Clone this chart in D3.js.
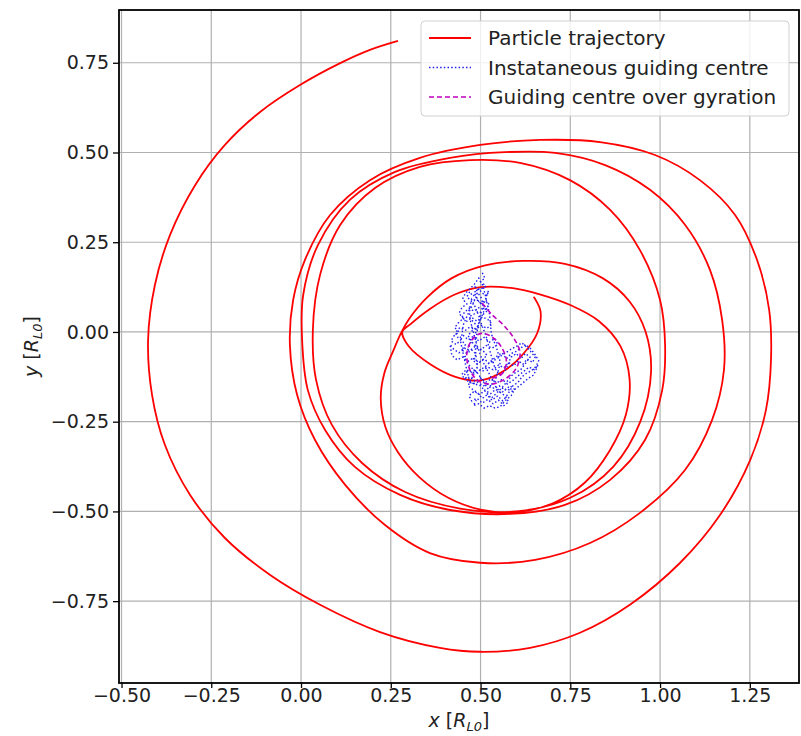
<!DOCTYPE html>
<html>
<head>
<meta charset="utf-8">
<script src="https://cdn.jsdelivr.net/npm/d3@7"></script>
<style>
  body { margin: 0; background: #fff; }
  svg { display: block; font-family: "DejaVu Sans", sans-serif; }
</style>
</head>
<body>
<svg id="chart"></svg>
<script>
// particle trajectory [x, y] in R_L0
const trajectory = [
  [0.270, 0.811], [0.192, 0.786], [0.109, 0.749], [-0.003, 0.688], [-0.114, 0.613],
  [-0.212, 0.521], [-0.295, 0.409], [-0.365, 0.270], [-0.407, 0.131], [-0.426, -0.022],
  [-0.415, -0.175], [-0.379, -0.315], [-0.309, -0.454], [-0.212, -0.574], [-0.086, -0.677],
  [0.053, -0.760], [0.220, -0.836], [0.387, -0.880], [0.499, -0.891], [0.638, -0.880],
  [0.777, -0.838], [0.916, -0.760], [1.056, -0.643], [1.167, -0.510], [1.251, -0.357],
  [1.295, -0.217], [1.309, -0.078], [1.304, 0.061], [1.270, 0.201], [1.209, 0.326],
  [1.111, 0.423], [0.986, 0.493], [0.833, 0.529], [0.666, 0.535], [0.499, 0.521],
  [0.331, 0.485], [0.192, 0.423], [0.081, 0.326], [0.011, 0.201], [-0.022, 0.089],
  [-0.031, -0.036], [-0.011, -0.175], [0.039, -0.301], [0.123, -0.426], [0.234, -0.538],
  [0.359, -0.616], [0.499, -0.643], [0.652, -0.635], [0.805, -0.588], [0.944, -0.504],
  [1.070, -0.384], [1.145, -0.245], [1.178, -0.106], [1.173, 0.033], [1.139, 0.173],
  [1.070, 0.298], [0.972, 0.396], [0.847, 0.465], [0.708, 0.499], [0.568, 0.501],
  [0.415, 0.485], [0.262, 0.446], [0.136, 0.368], [0.047, 0.242], [0.006, 0.103],
  [0.003, -0.022], [0.019, -0.162], [0.067, -0.273], [0.150, -0.376], [0.276, -0.454],
  [0.415, -0.496], [0.582, -0.507], [0.735, -0.482], [0.861, -0.412], [0.958, -0.301],
  [1.006, -0.162], [1.014, -0.036], [1.000, 0.089], [0.944, 0.228], [0.861, 0.340],
  [0.749, 0.423], [0.610, 0.471], [0.471, 0.479], [0.331, 0.460], [0.206, 0.401],
  [0.109, 0.298], [0.053, 0.159], [0.033, 0.006], [0.042, -0.134], [0.086, -0.259],
  [0.170, -0.365], [0.290, -0.446], [0.443, -0.492], [0.600, -0.500], [0.750, -0.462],
  [0.870, -0.375], [0.945, -0.250], [0.975, -0.110], [0.960, 0.000], [0.915, 0.085],
  [0.840, 0.150], [0.735, 0.190], [0.620, 0.198], [0.510, 0.185], [0.420, 0.150],
  [0.350, 0.095], [0.300, 0.035], [0.280, 0.000], [0.258, -0.050], [0.232, -0.115],
  [0.222, -0.185], [0.235, -0.265], [0.270, -0.335], [0.330, -0.405], [0.410, -0.462],
  [0.500, -0.495], [0.600, -0.502], [0.700, -0.478], [0.790, -0.420], [0.860, -0.330],
  [0.905, -0.230], [0.915, -0.130], [0.890, -0.040], [0.830, 0.030], [0.750, 0.075],
  [0.665, 0.105], [0.590, 0.122], [0.500, 0.125], [0.430, 0.105], [0.360, 0.065],
  [0.305, 0.022], [0.282, 0.000], [0.300, -0.040], [0.360, -0.090], [0.430, -0.125],
  [0.500, -0.135], [0.570, -0.105], [0.620, -0.060], [0.658, -0.003], [0.667, 0.058],
  [0.648, 0.098]
];

// instantaneous guiding centre [x, y]
const guidingInst = [
  [0.505, 0.165], [0.512, 0.150], [0.500, 0.140], [0.515, 0.128], [0.498, 0.118], [0.486, 0.125],
  [0.492, 0.108], [0.478, 0.100], [0.470, 0.112], [0.462, 0.098], [0.475, 0.085], [0.488, 0.092],
  [0.500, 0.080], [0.515, 0.088], [0.525, 0.075], [0.512, 0.062], [0.496, 0.068], [0.482, 0.058],
  [0.468, 0.066], [0.455, 0.055], [0.448, 0.040], [0.462, 0.030], [0.476, 0.040], [0.490, 0.030],
  [0.505, 0.042], [0.520, 0.035], [0.532, 0.022], [0.518, 0.010], [0.502, 0.018], [0.487, 0.008],
  [0.472, 0.015], [0.458, 0.005], [0.442, 0.012], [0.430, -0.002], [0.438, -0.018], [0.452, -0.010],
  [0.466, -0.022], [0.480, -0.012], [0.495, -0.025], [0.510, -0.015], [0.525, -0.028], [0.540, -0.018],
  [0.548, -0.035], [0.532, -0.045], [0.516, -0.038], [0.500, -0.050], [0.485, -0.040], [0.470, -0.052],
  [0.455, -0.045], [0.440, -0.058], [0.425, -0.048], [0.415, -0.035], [0.420, -0.065], [0.435, -0.078],
  [0.450, -0.070], [0.465, -0.082], [0.480, -0.072], [0.495, -0.085], [0.510, -0.075], [0.525, -0.088],
  [0.540, -0.078], [0.555, -0.068], [0.570, -0.058], [0.585, -0.048], [0.600, -0.040], [0.615, -0.030],
  [0.628, -0.042], [0.640, -0.055], [0.652, -0.070], [0.645, -0.085], [0.630, -0.075], [0.618, -0.090],
  [0.605, -0.080], [0.592, -0.095], [0.578, -0.085], [0.565, -0.100], [0.550, -0.092], [0.535, -0.105],
  [0.520, -0.098], [0.505, -0.110], [0.490, -0.100], [0.475, -0.112], [0.460, -0.105], [0.448, -0.118],
  [0.455, -0.132], [0.470, -0.125], [0.485, -0.138], [0.500, -0.128], [0.515, -0.140], [0.530, -0.130],
  [0.545, -0.142], [0.560, -0.132], [0.575, -0.145], [0.590, -0.135], [0.605, -0.122], [0.620, -0.110],
  [0.635, -0.098], [0.650, -0.105], [0.660, -0.092], [0.648, -0.120], [0.632, -0.130], [0.618, -0.142],
  [0.602, -0.155], [0.588, -0.165], [0.572, -0.158], [0.558, -0.170], [0.542, -0.160], [0.528, -0.172],
  [0.512, -0.162], [0.498, -0.175], [0.482, -0.165], [0.468, -0.178], [0.475, -0.192], [0.490, -0.185],
  [0.505, -0.198], [0.520, -0.188], [0.535, -0.200], [0.550, -0.190], [0.565, -0.205], [0.578, -0.195],
  [0.570, -0.180], [0.555, -0.168], [0.540, -0.150], [0.525, -0.118], [0.510, -0.090], [0.498, -0.060],
  [0.488, -0.030], [0.480, 0.000], [0.472, 0.030], [0.468, 0.060], [0.475, 0.090], [0.485, 0.070],
  [0.495, 0.045], [0.505, 0.015], [0.515, -0.010], [0.528, -0.060], [0.540, -0.100], [0.552, -0.120],
  [0.568, -0.110], [0.585, -0.070], [0.600, -0.060], [0.612, -0.075], [0.625, -0.060], [0.638, -0.070],
  [0.612, -0.105], [0.590, -0.118], [0.560, -0.155], [0.530, -0.185], [0.500, -0.150], [0.470, -0.140],
  [0.458, -0.090], [0.445, -0.030], [0.452, 0.020], [0.465, 0.050], [0.480, 0.080], [0.492, 0.110],
  [0.502, 0.095], [0.510, 0.060], [0.498, 0.030], [0.485, -0.005], [0.468, -0.040], [0.455, -0.075],
  [0.470, -0.095], [0.492, -0.115], [0.512, -0.145], [0.522, -0.160], [0.545, -0.125], [0.555, -0.085],
  [0.548, -0.055], [0.530, -0.005], [0.525, 0.050], [0.508, 0.125], [0.495, 0.150], [0.482, 0.132],
  [0.470, 0.120], [0.458, 0.108], [0.450, 0.092], [0.462, 0.078], [0.448, 0.068], [0.440, 0.052],
  [0.452, 0.038], [0.438, 0.025], [0.428, 0.012], [0.440, 0.000], [0.425, -0.012], [0.418, -0.025],
  [0.432, -0.035], [0.445, -0.022], [0.458, -0.035], [0.448, -0.050], [0.462, -0.060], [0.475, -0.050],
  [0.488, -0.062], [0.478, -0.078], [0.492, -0.090], [0.505, -0.078], [0.518, -0.065], [0.505, -0.050],
  [0.490, -0.045], [0.478, -0.030], [0.465, -0.010], [0.478, 0.005], [0.492, 0.015], [0.480, 0.028],
  [0.468, 0.042], [0.482, 0.050], [0.495, 0.058], [0.508, 0.050], [0.520, 0.060], [0.508, 0.075],
  [0.495, 0.085], [0.482, 0.110], [0.495, 0.120], [0.505, 0.108], [0.518, 0.100], [0.522, 0.115],
  [0.510, 0.080], [0.500, 0.050], [0.490, 0.000], [0.486, -0.050], [0.490, -0.100], [0.480, -0.120],
  [0.465, -0.150], [0.478, -0.160], [0.492, -0.170], [0.505, -0.185], [0.518, -0.175], [0.532, -0.190],
  [0.548, -0.178], [0.562, -0.192], [0.575, -0.175], [0.590, -0.150], [0.605, -0.140], [0.615, -0.125],
  [0.628, -0.115], [0.642, -0.108], [0.655, -0.095], [0.662, -0.080], [0.650, -0.060], [0.638, -0.045],
  [0.625, -0.035], [0.612, -0.045], [0.598, -0.055], [0.585, -0.060], [0.572, -0.075], [0.560, -0.058],
  [0.545, -0.068], [0.530, -0.080], [0.515, -0.095], [0.500, -0.105], [0.485, -0.115], [0.470, -0.108],
  [0.455, -0.115], [0.462, -0.135], [0.478, -0.145], [0.492, -0.140], [0.508, -0.150], [0.522, -0.145],
  [0.538, -0.158], [0.552, -0.150], [0.568, -0.162], [0.582, -0.150], [0.595, -0.160], [0.585, -0.178],
  [0.570, -0.190], [0.555, -0.208], [0.540, -0.212], [0.525, -0.205], [0.510, -0.212], [0.495, -0.200],
  [0.480, -0.205], [0.488, -0.190]
];

// guiding centre averaged over a gyration [x, y]
const guidingAvg = [
  [0.505, 0.080], [0.532, 0.048], [0.565, 0.018], [0.593, -0.018], [0.610, -0.058],
  [0.600, -0.100], [0.570, -0.130], [0.530, -0.145], [0.492, -0.135], [0.468, -0.100],
  [0.462, -0.060], [0.476, -0.022], [0.502, -0.004], [0.532, -0.014], [0.558, -0.042],
  [0.572, -0.082], [0.558, -0.118], [0.528, -0.130]
];

const xTicks = [-0.50, -0.25, 0.00, 0.25, 0.50, 0.75, 1.00, 1.25];
const yTicks = [-0.75, -0.50, -0.25, 0.00, 0.25, 0.50, 0.75];
const legendLabels = ["Particle trajectory", "Instataneous guiding centre", "Guiding centre over gyration"];

const width = 801, height = 736;
const margin = { top: 10, right: 2, bottom: 53, left: 119 };

const svg = d3.select("#chart").attr("width", width).attr("height", height);

const x = d3.scaleLinear().domain([-0.507, 1.387]).range([margin.left, width - margin.right]);
const y = d3.scaleLinear().domain([-0.978, 0.897]).range([height - margin.bottom, margin.top]);
const fmt = d3.format(".2f");

svg.append("defs").append("clipPath").attr("id", "clip")
  .append("rect")
  .attr("x", margin.left).attr("y", margin.top)
  .attr("width", width - margin.right - margin.left)
  .attr("height", height - margin.bottom - margin.top);

// grid
const grid = svg.append("g");
grid.selectAll(".gx").data(xTicks).enter().append("line")
  .attr("x1", d => x(d)).attr("x2", d => x(d))
  .attr("y1", margin.top).attr("y2", height - margin.bottom)
  .attr("stroke", "#b0b0b0").attr("stroke-width", 1.2);
grid.selectAll(".gy").data(yTicks).enter().append("line")
  .attr("x1", margin.left).attr("x2", width - margin.right)
  .attr("y1", d => y(d)).attr("y2", d => y(d))
  .attr("stroke", "#b0b0b0").attr("stroke-width", 1.2);

const plot = svg.append("g").attr("clip-path", "url(#clip)");

const line = d3.line().x(d => x(d[0])).y(d => y(d[1]));
const smooth = d3.line().x(d => x(d[0])).y(d => y(d[1])).curve(d3.curveCatmullRom.alpha(0.5));

plot.append("path").datum(trajectory)
  .attr("d", smooth).attr("fill", "none")
  .attr("stroke", "red").attr("stroke-width", 1.8);

plot.append("path").datum(guidingInst)
  .attr("d", line).attr("fill", "none")
  .attr("stroke", "#2020f0").attr("stroke-width", 1.4)
  .attr("stroke-dasharray", "1.5,2.2");

plot.append("path").datum(guidingAvg)
  .attr("d", smooth).attr("fill", "none")
  .attr("stroke", "#bf00bf").attr("stroke-width", 1.6)
  .attr("stroke-dasharray", "5,3");

// axes
const xAxis = svg.append("g")
  .attr("transform", `translate(0,${height - margin.bottom})`)
  .call(d3.axisBottom(x).tickValues(xTicks).tickFormat(fmt).tickSize(5).tickPadding(1));
const yAxis = svg.append("g")
  .attr("transform", `translate(${margin.left},0)`)
  .call(d3.axisLeft(y).tickValues(yTicks).tickFormat(fmt).tickSize(6).tickPadding(4));

[xAxis, yAxis].forEach(a => {
  a.select(".domain").remove();
  a.selectAll("text").attr("font-size", 19).attr("fill", "#222")
    .attr("font-family", "DejaVu Sans");
  a.selectAll(".tick line").attr("stroke", "#000").attr("stroke-width", 1.3);
});

// spines
svg.append("rect")
  .attr("x", margin.left).attr("y", margin.top)
  .attr("width", width - margin.right - margin.left)
  .attr("height", height - margin.bottom - margin.top)
  .attr("fill", "none").attr("stroke", "#000").attr("stroke-width", 1.8);

// axis labels
const xl = svg.append("text")
  .attr("x", (margin.left + width - margin.right) / 2).attr("y", 727)
  .attr("text-anchor", "middle").attr("font-size", 19).attr("fill", "#222");
xl.append("tspan").attr("font-style", "italic").text("x");
xl.append("tspan").text(" [");
xl.append("tspan").attr("font-style", "italic").text("R");
xl.append("tspan").attr("font-size", 13).attr("font-style", "italic").attr("dy", 4).text("L0");
xl.append("tspan").attr("dy", -4).text("]");

const yl = svg.append("text")
  .attr("transform", `translate(38,${(margin.top + height - margin.bottom) / 2}) rotate(-90)`)
  .attr("text-anchor", "middle").attr("font-size", 19).attr("fill", "#222");
yl.append("tspan").attr("font-style", "italic").text("y");
yl.append("tspan").text(" [");
yl.append("tspan").attr("font-style", "italic").text("R");
yl.append("tspan").attr("font-size", 13).attr("font-style", "italic").attr("dy", 4).text("L0");
yl.append("tspan").attr("dy", -4).text("]");

// legend
const lg = svg.append("g").attr("transform", "translate(421,21)");
lg.append("rect").attr("width", 368).attr("height", 95).attr("rx", 4)
  .attr("fill", "#fff").attr("fill-opacity", 0.8)
  .attr("stroke", "#d0d0d0").attr("stroke-width", 1);
const styles = [
  { stroke: "red", dash: null, w: 1.8 },
  { stroke: "#2020f0", dash: "1.5,2.2", w: 1.4 },
  { stroke: "#bf00bf", dash: "5,3", w: 1.6 }
];
legendLabels.forEach((t, i) => {
  const row = lg.append("g").attr("transform", `translate(0,${17 + i * 29.5})`);
  row.append("line").attr("x1", 8).attr("x2", 50).attr("y1", 0).attr("y2", 0)
    .attr("stroke", styles[i].stroke).attr("stroke-width", styles[i].w)
    .attr("stroke-dasharray", styles[i].dash);
  row.append("text").attr("x", 67).attr("y", 7).attr("font-size", 20)
    .attr("fill", "#222").text(t);
});
</script>
</body>
</html>
